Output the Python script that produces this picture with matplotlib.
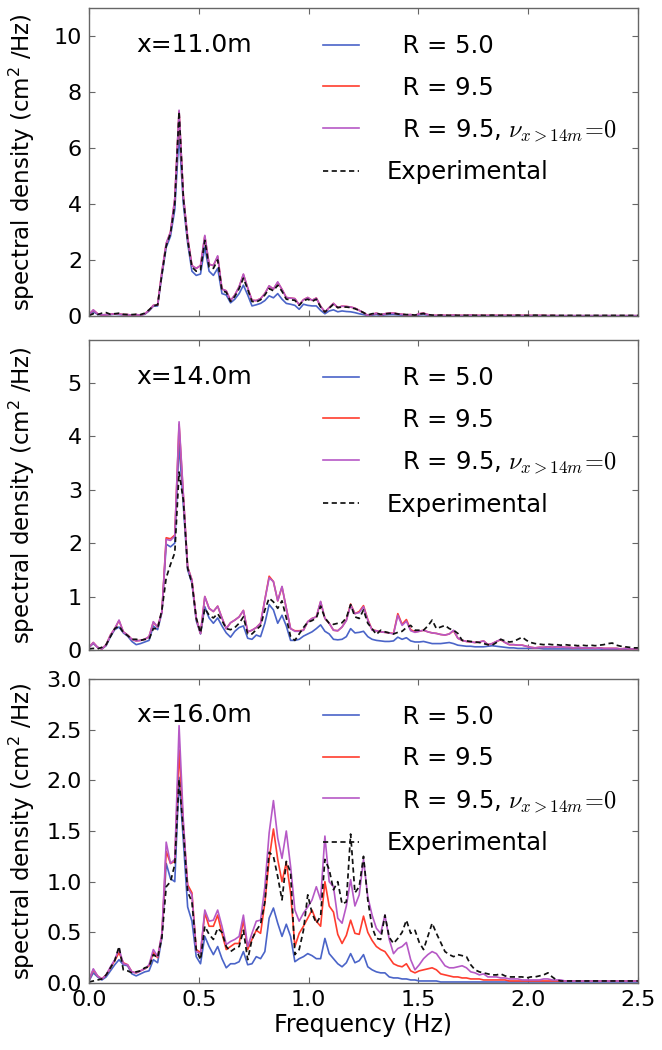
import numpy as np
import matplotlib
matplotlib.use("Agg")
import matplotlib.pyplot as plt
from matplotlib.ticker import FixedLocator, FormatStrFormatter

plt.rcParams['font.family'] = ['DejaVu Sans']
plt.rcParams['mathtext.fontset'] = 'cm'

# ---------------- data ----------------
N_POINTS = 129
FREQ = np.arange(N_POINTS) / 51.2   # Hz

STATIONS = ["x=11.0m", "x=14.0m", "x=16.0m"]
LABELS = ["  R = 5.0", "  R = 9.5", r"  R = 9.5, $\nu_{x>14m}\!=\!0$", "Experimental"]

P1_BLUE = [0.04, 0.15, 0.06, 0.03, 0.04, 0.05, 0.06, 0.05, 0.04, 0.04,
           0.03, 0.04, 0.03, 0.06, 0.18, 0.35, 0.36, 1.45, 2.45, 2.85,
           3.80, 6.50, 4.00, 2.60, 1.60, 1.45, 1.50, 2.46, 1.60, 1.45,
           1.70, 0.80, 0.75, 0.47, 0.60, 0.80, 1.10, 0.75, 0.36, 0.40,
           0.45, 0.55, 0.72, 0.65, 0.80, 0.60, 0.45, 0.42, 0.38, 0.24,
           0.42, 0.38, 0.36, 0.36, 0.20, 0.08, 0.18, 0.22, 0.15, 0.18,
           0.16, 0.15, 0.12, 0.08, 0.05, 0.02, 0.03, 0.05, 0.02, 0.04,
           0.05, 0.05, 0.04, 0.03, 0.02, 0.03, 0.01, 0.04, 0.05, 0.03,
           0.02, 0.01, 0.02, 0.01, 0.01, 0.02, 0.01, 0.01, 0.01, 0.02,
           0.01, 0.01, 0.01, 0.01, 0.01, 0.01, 0.01, 0.01, 0.01, 0.01,
           0.01, 0.01, 0.01, 0.01, 0.01, 0.01, 0.01, 0.01, 0.01, 0.01,
           0.01, 0.01, 0.01, 0.01, 0.01, 0.01, 0.01, 0.01, 0.01, 0.01,
           0.01, 0.01, 0.01, 0.01, 0.01, 0.01, 0.01, 0.01, 0.01]
P1_RED = [0.05, 0.21, 0.08, 0.04, 0.05, 0.06, 0.08, 0.07, 0.05, 0.05,
          0.03, 0.05, 0.03, 0.08, 0.20, 0.38, 0.39, 1.58, 2.58, 3.00,
          4.18, 7.30, 4.28, 2.80, 1.80, 1.70, 1.80, 2.85, 1.85, 1.80,
          2.12, 0.96, 0.90, 0.55, 0.75, 1.04, 1.48, 1.00, 0.56, 0.55,
          0.62, 0.80, 1.07, 0.96, 1.20, 0.95, 0.66, 0.64, 0.62, 0.40,
          0.58, 0.66, 0.56, 0.64, 0.35, 0.14, 0.30, 0.45, 0.30, 0.35,
          0.34, 0.32, 0.28, 0.20, 0.12, 0.02, 0.06, 0.10, 0.04, 0.08,
          0.10, 0.10, 0.08, 0.06, 0.04, 0.05, 0.02, 0.08, 0.10, 0.05,
          0.02, 0.02, 0.03, 0.02, 0.02, 0.03, 0.02, 0.02, 0.02, 0.03,
          0.02, 0.02, 0.02, 0.02, 0.02, 0.02, 0.02, 0.02, 0.02, 0.02,
          0.02, 0.02, 0.02, 0.02, 0.01, 0.02, 0.02, 0.01, 0.02, 0.01,
          0.01, 0.01, 0.01, 0.01, 0.01, 0.01, 0.01, 0.01, 0.01, 0.01,
          0.01, 0.01, 0.01, 0.01, 0.01, 0.01, 0.01, 0.01, 0.01]
P1_PURPLE = [0.05, 0.22, 0.08, 0.04, 0.05, 0.06, 0.08, 0.07, 0.05, 0.05,
             0.03, 0.05, 0.03, 0.08, 0.20, 0.38, 0.40, 1.60, 2.60, 3.00,
             4.20, 7.35, 4.30, 2.80, 1.80, 1.70, 1.80, 2.88, 1.85, 1.80,
             2.15, 0.96, 0.90, 0.55, 0.75, 1.05, 1.50, 1.00, 0.56, 0.55,
             0.62, 0.80, 1.08, 0.96, 1.22, 0.95, 0.66, 0.64, 0.62, 0.40,
             0.58, 0.66, 0.56, 0.64, 0.35, 0.14, 0.30, 0.45, 0.30, 0.35,
             0.34, 0.32, 0.28, 0.20, 0.12, 0.02, 0.06, 0.10, 0.04, 0.08,
             0.10, 0.10, 0.08, 0.06, 0.04, 0.05, 0.02, 0.08, 0.10, 0.05,
             0.02, 0.02, 0.03, 0.02, 0.02, 0.03, 0.02, 0.02, 0.02, 0.03,
             0.02, 0.02, 0.02, 0.02, 0.02, 0.02, 0.02, 0.02, 0.02, 0.02,
             0.02, 0.02, 0.02, 0.02, 0.01, 0.02, 0.02, 0.01, 0.02, 0.01,
             0.01, 0.01, 0.01, 0.01, 0.01, 0.01, 0.01, 0.01, 0.01, 0.01,
             0.01, 0.01, 0.01, 0.01, 0.01, 0.01, 0.01, 0.01, 0.01]
P1_EXP = [0.02, 0.08, 0.05, 0.10, 0.12, 0.06, 0.08, 0.10, 0.06, 0.05,
          0.05, 0.06, 0.05, 0.10, 0.22, 0.36, 0.40, 1.50, 2.50, 2.95,
          4.00, 7.30, 4.20, 2.70, 1.75, 1.60, 1.65, 2.70, 1.75, 1.70,
          2.00, 0.90, 0.85, 0.52, 0.70, 0.98, 1.35, 0.95, 0.52, 0.50,
          0.58, 0.75, 0.98, 0.90, 1.10, 0.88, 0.60, 0.58, 0.56, 0.38,
          0.55, 0.60, 0.52, 0.60, 0.32, 0.14, 0.28, 0.42, 0.30, 0.32,
          0.32, 0.30, 0.26, 0.20, 0.12, 0.04, 0.08, 0.10, 0.06, 0.08,
          0.09, 0.10, 0.07, 0.06, 0.05, 0.05, 0.03, 0.07, 0.09, 0.05,
          0.03, 0.02, 0.03, 0.03, 0.02, 0.03, 0.02, 0.03, 0.02, 0.03,
          0.02, 0.03, 0.02, 0.02, 0.03, 0.02, 0.02, 0.03, 0.02, 0.02,
          0.03, 0.02, 0.02, 0.02, 0.03, 0.02, 0.02, 0.02, 0.02, 0.02,
          0.02, 0.02, 0.02, 0.02, 0.02, 0.02, 0.02, 0.02, 0.02, 0.02,
          0.02, 0.02, 0.02, 0.02, 0.02, 0.02, 0.02, 0.02, 0.02]

P2_BLUE = [0.05, 0.12, 0.05, 0.02, 0.08, 0.25, 0.38, 0.43, 0.32, 0.26,
           0.16, 0.10, 0.12, 0.15, 0.18, 0.45, 0.38, 0.70, 1.98, 1.93,
           2.00, 3.86, 2.70, 1.50, 1.25, 0.55, 0.30, 0.81, 0.60, 0.50,
           0.60, 0.45, 0.32, 0.24, 0.35, 0.42, 0.45, 0.22, 0.20, 0.28,
           0.25, 0.50, 0.85, 0.75, 0.50, 0.65, 0.45, 0.18, 0.18, 0.20,
           0.26, 0.30, 0.34, 0.40, 0.47, 0.35, 0.30, 0.20, 0.19, 0.20,
           0.25, 0.40, 0.32, 0.33, 0.35, 0.25, 0.20, 0.18, 0.17, 0.16,
           0.16, 0.17, 0.24, 0.20, 0.23, 0.17, 0.15, 0.15, 0.16, 0.14,
           0.12, 0.12, 0.12, 0.13, 0.14, 0.12, 0.09, 0.08, 0.07, 0.07,
           0.06, 0.06, 0.06, 0.07, 0.08, 0.07, 0.06, 0.05, 0.04, 0.04,
           0.03, 0.03, 0.03, 0.03, 0.03, 0.03, 0.02, 0.02, 0.02, 0.02,
           0.02, 0.02, 0.02, 0.02, 0.02, 0.02, 0.02, 0.02, 0.02, 0.02,
           0.01, 0.01, 0.01, 0.01, 0.01, 0.01, 0.01, 0.01, 0.01]
P2_RED = [0.05, 0.14, 0.05, 0.02, 0.10, 0.28, 0.40, 0.55, 0.34, 0.28,
          0.20, 0.17, 0.18, 0.20, 0.25, 0.52, 0.43, 0.72, 2.10, 2.08,
          2.15, 4.22, 2.90, 1.55, 1.31, 0.59, 0.31, 1.00, 0.78, 0.72,
          0.82, 0.60, 0.40, 0.51, 0.56, 0.62, 0.74, 0.34, 0.37, 0.42,
          0.50, 0.94, 1.38, 1.28, 0.92, 1.18, 0.78, 0.40, 0.36, 0.36,
          0.37, 0.53, 0.59, 0.62, 0.90, 0.59, 0.50, 0.37, 0.36, 0.43,
          0.56, 0.86, 0.68, 0.72, 0.83, 0.57, 0.38, 0.36, 0.34, 0.33,
          0.32, 0.31, 0.68, 0.48, 0.57, 0.38, 0.34, 0.35, 0.37, 0.34,
          0.32, 0.31, 0.29, 0.28, 0.30, 0.36, 0.22, 0.18, 0.16, 0.15,
          0.14, 0.15, 0.17, 0.10, 0.12, 0.16, 0.19, 0.14, 0.10, 0.10,
          0.09, 0.09, 0.07, 0.05, 0.04, 0.05, 0.05, 0.06, 0.05, 0.06,
          0.06, 0.05, 0.05, 0.04, 0.05, 0.04, 0.04, 0.04, 0.03, 0.04,
          0.03, 0.03, 0.03, 0.03, 0.02, 0.03, 0.02, 0.02, 0.02]
P2_PURPLE = [0.05, 0.14, 0.05, 0.02, 0.10, 0.28, 0.40, 0.56, 0.34, 0.28,
             0.20, 0.17, 0.18, 0.20, 0.25, 0.53, 0.43, 0.72, 2.07, 2.05,
             2.13, 4.27, 2.90, 1.55, 1.31, 0.59, 0.31, 1.00, 0.78, 0.72,
             0.82, 0.60, 0.40, 0.51, 0.56, 0.62, 0.74, 0.34, 0.37, 0.42,
             0.50, 0.94, 1.35, 1.28, 0.92, 1.19, 0.78, 0.40, 0.35, 0.35,
             0.37, 0.53, 0.59, 0.62, 0.91, 0.59, 0.50, 0.37, 0.36, 0.43,
             0.55, 0.84, 0.68, 0.70, 0.81, 0.56, 0.37, 0.36, 0.34, 0.33,
             0.32, 0.30, 0.65, 0.46, 0.54, 0.36, 0.33, 0.35, 0.37, 0.34,
             0.32, 0.31, 0.29, 0.28, 0.30, 0.37, 0.22, 0.18, 0.16, 0.15,
             0.14, 0.15, 0.17, 0.10, 0.12, 0.16, 0.20, 0.14, 0.10, 0.10,
             0.09, 0.09, 0.07, 0.05, 0.04, 0.05, 0.05, 0.06, 0.05, 0.06,
             0.06, 0.05, 0.05, 0.04, 0.05, 0.04, 0.04, 0.04, 0.03, 0.04,
             0.03, 0.03, 0.03, 0.03, 0.02, 0.03, 0.02, 0.02, 0.02]
P2_EXP = [0.02, 0.03, 0.02, 0.05, 0.10, 0.25, 0.40, 0.45, 0.33, 0.27,
          0.20, 0.20, 0.18, 0.20, 0.20, 0.40, 0.40, 0.75, 1.35, 1.60,
          1.82, 3.33, 2.80, 1.53, 1.25, 0.60, 0.32, 0.78, 0.65, 0.60,
          0.68, 0.55, 0.40, 0.38, 0.42, 0.50, 0.62, 0.30, 0.30, 0.38,
          0.45, 0.75, 0.97, 0.90, 0.78, 0.92, 0.60, 0.25, 0.18, 0.30,
          0.42, 0.52, 0.55, 0.60, 0.82, 0.60, 0.50, 0.48, 0.50, 0.51,
          0.60, 0.85, 0.62, 0.59, 0.75, 0.50, 0.40, 0.29, 0.37, 0.34,
          0.32, 0.30, 0.33, 0.35, 0.42, 0.46, 0.37, 0.37, 0.37, 0.45,
          0.56, 0.40, 0.43, 0.46, 0.40, 0.37, 0.31, 0.18, 0.17, 0.16,
          0.15, 0.14, 0.12, 0.10, 0.09, 0.14, 0.20, 0.17, 0.15, 0.16,
          0.20, 0.24, 0.18, 0.14, 0.12, 0.11, 0.10, 0.11, 0.10, 0.10,
          0.09, 0.10, 0.09, 0.09, 0.08, 0.09, 0.08, 0.09, 0.08, 0.09,
          0.10, 0.12, 0.13, 0.09, 0.07, 0.06, 0.05, 0.04, 0.04]

P3_BLUE = [0.02, 0.10, 0.06, 0.03, 0.06, 0.12, 0.18, 0.23, 0.18, 0.17,
           0.09, 0.07, 0.09, 0.11, 0.12, 0.23, 0.20, 0.45, 1.18, 1.03,
           1.00, 2.03, 1.40, 0.75, 0.61, 0.26, 0.19, 0.46, 0.36, 0.28,
           0.36, 0.24, 0.15, 0.19, 0.19, 0.21, 0.31, 0.18, 0.19, 0.26,
           0.24, 0.31, 0.64, 0.74, 0.59, 0.46, 0.58, 0.46, 0.21, 0.24,
           0.26, 0.29, 0.27, 0.24, 0.24, 0.44, 0.29, 0.24, 0.19, 0.16,
           0.20, 0.29, 0.20, 0.22, 0.28, 0.16, 0.13, 0.11, 0.10, 0.10,
           0.06, 0.05, 0.05, 0.04, 0.04, 0.03, 0.03, 0.02, 0.02, 0.02,
           0.02, 0.02, 0.01, 0.01, 0.01, 0.01, 0.01, 0.01, 0.01, 0.01,
           0.01, 0.01, 0.01, 0.01, 0.01, 0.01, 0.01, 0.01, 0.01, 0.01,
           0.01, 0.01, 0.01, 0.01, 0.01, 0.01, 0.01, 0.01, 0.01, 0.01,
           0.01, 0.01, 0.01, 0.01, 0.01, 0.01, 0.01, 0.01, 0.01, 0.01,
           0.01, 0.01, 0.01, 0.01, 0.01, 0.01, 0.01, 0.01, 0.01]
P3_RED = [0.03, 0.13, 0.07, 0.04, 0.08, 0.15, 0.22, 0.30, 0.20, 0.18,
          0.11, 0.10, 0.12, 0.14, 0.17, 0.30, 0.25, 0.48, 1.30, 1.18,
          1.20, 2.30, 1.55, 0.97, 0.89, 0.33, 0.30, 0.69, 0.56, 0.56,
          0.67, 0.49, 0.33, 0.36, 0.39, 0.39, 0.62, 0.33, 0.43, 0.52,
          0.49, 0.79, 1.22, 1.52, 1.22, 1.00, 1.19, 0.89, 0.36, 0.49,
          0.56, 0.64, 0.72, 0.61, 0.56, 1.00, 0.76, 0.70, 0.48, 0.39,
          0.47, 0.62, 0.49, 0.48, 0.66, 0.50, 0.42, 0.36, 0.33, 0.31,
          0.25, 0.19, 0.17, 0.16, 0.19, 0.12, 0.10, 0.12, 0.13, 0.14,
          0.15, 0.13, 0.09, 0.08, 0.07, 0.06, 0.06, 0.05, 0.05, 0.04,
          0.04, 0.04, 0.03, 0.03, 0.03, 0.03, 0.03, 0.03, 0.02, 0.02,
          0.02, 0.02, 0.02, 0.02, 0.02, 0.02, 0.02, 0.02, 0.02, 0.02,
          0.02, 0.02, 0.02, 0.02, 0.02, 0.02, 0.02, 0.02, 0.02, 0.02,
          0.02, 0.02, 0.02, 0.02, 0.02, 0.02, 0.02, 0.02, 0.02]
P3_PURPLE = [0.03, 0.14, 0.07, 0.04, 0.08, 0.16, 0.23, 0.34, 0.19, 0.18,
             0.11, 0.10, 0.12, 0.14, 0.18, 0.33, 0.26, 0.49, 1.39, 1.18,
             1.22, 2.54, 1.60, 0.94, 0.87, 0.31, 0.29, 0.72, 0.61, 0.62,
             0.72, 0.56, 0.38, 0.41, 0.43, 0.46, 0.67, 0.36, 0.49, 0.61,
             0.62, 0.95, 1.48, 1.80, 1.43, 1.23, 1.50, 1.15, 0.72, 0.61,
             0.69, 0.75, 0.82, 0.95, 0.82, 1.45, 1.00, 0.95, 0.64, 0.59,
             0.76, 1.02, 0.76, 0.87, 1.22, 0.85, 0.67, 0.54, 0.49, 0.67,
             0.43, 0.29, 0.34, 0.36, 0.40, 0.23, 0.13, 0.18, 0.24, 0.28,
             0.31, 0.29, 0.23, 0.17, 0.15, 0.15, 0.16, 0.17, 0.15, 0.11,
             0.10, 0.08, 0.09, 0.06, 0.06, 0.06, 0.05, 0.05, 0.04, 0.04,
             0.04, 0.03, 0.03, 0.03, 0.03, 0.03, 0.04, 0.04, 0.03, 0.03,
             0.03, 0.02, 0.02, 0.02, 0.02, 0.02, 0.02, 0.02, 0.02, 0.02,
             0.02, 0.02, 0.02, 0.02, 0.02, 0.02, 0.02, 0.02, 0.02]
P3_EXP = [0.01, 0.02, 0.03, 0.04, 0.08, 0.15, 0.22, 0.36, 0.13, 0.12,
          0.10, 0.11, 0.12, 0.15, 0.16, 0.28, 0.25, 0.45, 0.95, 1.00,
          1.17, 2.01, 1.50, 0.90, 0.80, 0.33, 0.23, 0.56, 0.48, 0.43,
          0.54, 0.50, 0.36, 0.31, 0.34, 0.36, 0.52, 0.23, 0.43, 0.52,
          0.58, 0.80, 1.29, 1.25, 1.05, 0.82, 1.20, 1.09, 0.28, 0.33,
          0.52, 0.87, 0.69, 0.59, 0.66, 1.22, 1.12, 0.92, 1.00, 0.78,
          0.80, 1.47, 0.89, 0.95, 1.25, 0.82, 0.55, 0.44, 0.43, 0.67,
          0.45, 0.39, 0.44, 0.50, 0.62, 0.49, 0.52, 0.40, 0.33, 0.46,
          0.59, 0.49, 0.40, 0.31, 0.28, 0.26, 0.28, 0.27, 0.26, 0.18,
          0.13, 0.11, 0.10, 0.09, 0.08, 0.08, 0.09, 0.07, 0.06, 0.06,
          0.06, 0.06, 0.05, 0.06, 0.06, 0.07, 0.08, 0.10, 0.06, 0.03,
          0.02, 0.02, 0.02, 0.02, 0.02, 0.02, 0.02, 0.02, 0.02, 0.02,
          0.02, 0.02, 0.02, 0.02, 0.02, 0.02, 0.02, 0.02, 0.02]

PANELS = [
    (P1_BLUE, P1_RED, P1_PURPLE, P1_EXP),
    (P2_BLUE, P2_RED, P2_PURPLE, P2_EXP),
    (P3_BLUE, P3_RED, P3_PURPLE, P3_EXP),
]
YLIMS = [(0, 11), (0, 5.8), (0, 3.0)]
YTICKS = [[0, 2, 4, 6, 8, 10], [0, 1, 2, 3, 4, 5], [0.0, 0.5, 1.0, 1.5, 2.0, 2.5, 3.0]]
XTICKS = [0.0, 0.5, 1.0, 1.5, 2.0, 2.5]

# ---------------- style ----------------
C_BLUE = '#4a64c8'
C_RED = '#ff3d2e'
C_PURPLE = '#b659c6'
C_EXP = '#111111'
FRAME = '#666666'

W, H = 662, 1050
fig = plt.figure(figsize=(W / 100, H / 100), dpi=100)

left = 89 / W
width = 549 / W
boxes = [(8, 316), (340, 650), (679, 983)]   # top, bottom in pixels

for k, (top_px, bot_px) in enumerate(boxes):
    ax = fig.add_axes([left, 1 - bot_px / H, width, (bot_px - top_px) / H])
    blue, red, purple, exp = PANELS[k]
    ax.plot(FREQ, blue, color=C_BLUE, lw=1.2, label=LABELS[0])
    ax.plot(FREQ, red, color=C_RED, lw=1.2, label=LABELS[1])
    ax.plot(FREQ, purple, color=C_PURPLE, lw=1.2, label=LABELS[2])
    ax.plot(FREQ, exp, color=C_EXP, lw=1.25, linestyle=(0, (3.0, 2.0)), label=LABELS[3])

    ax.set_xlim(0, 2.5)
    ax.set_ylim(*YLIMS[k])
    ax.xaxis.set_major_locator(FixedLocator(XTICKS))
    ax.yaxis.set_major_locator(FixedLocator(YTICKS[k]))
    if k == 2:
        ax.yaxis.set_major_formatter(FormatStrFormatter('%.1f'))
        ax.xaxis.set_major_formatter(FormatStrFormatter('%.1f'))
        ax.set_xlabel('Frequency (Hz)', fontsize=17, labelpad=2)
    else:
        ax.tick_params(axis='x', labelbottom=False)

    ax.tick_params(direction='in', top=True, right=True, length=4,
                   width=0.8, color=FRAME, labelsize=16, pad=5)
    for sp in ax.spines.values():
        sp.set_color(FRAME)
        sp.set_linewidth(1.0)

    ax.set_ylabel(r'spectral density (cm$\mathregular{^2}$ /Hz)', fontsize=16.5)
    ax.yaxis.set_label_coords(-0.095, 0.5)

    ax.text(0.087, 0.88, STATIONS[k], transform=ax.transAxes, fontsize=18,
            va='center', ha='left')

    leg = ax.legend(loc='upper left', bbox_to_anchor=(0.426, 0.915), frameon=False,
                    fontsize=17.5, borderpad=0, borderaxespad=0, handlelength=1.48,
                    handletextpad=1.15, labelspacing=0.72)

fig.savefig('out.png', dpi=100)
